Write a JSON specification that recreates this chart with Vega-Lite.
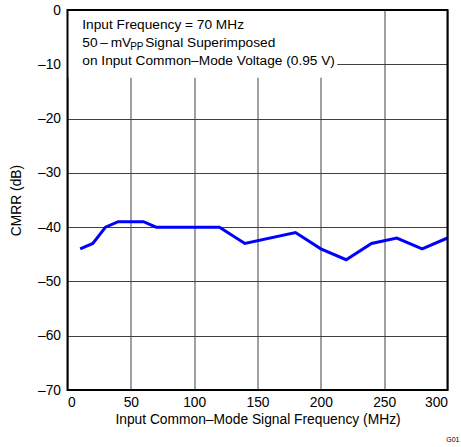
{
  "$schema": "https://vega.github.io/schema/vega-lite/v6.json",
  "width": 380,
  "height": 380,
  "autosize": "none",
  "padding": {"left": 67.5, "top": 10, "right": 13.5, "bottom": 57},
  "background": "white",
  "config": {
    "view": {"stroke": null},
    "font": "Liberation Sans",
    "axis": {
      "domain": false,
      "ticks": false,
      "labelFont": "Liberation Sans",
      "titleFont": "Liberation Sans",
      "labelFontSize": 13.8,
      "titleFontSize": 13.8,
      "labelColor": "black",
      "titleColor": "black",
      "titleFontWeight": "normal"
    }
  },
  "data": {
    "values": [
      {"freq": 10, "cmrr": -44},
      {"freq": 20, "cmrr": -43},
      {"freq": 30, "cmrr": -40},
      {"freq": 40, "cmrr": -39},
      {"freq": 60, "cmrr": -39},
      {"freq": 70, "cmrr": -40},
      {"freq": 120, "cmrr": -40},
      {"freq": 140, "cmrr": -43},
      {"freq": 180, "cmrr": -41},
      {"freq": 200, "cmrr": -44},
      {"freq": 220, "cmrr": -46},
      {"freq": 240, "cmrr": -43},
      {"freq": 260, "cmrr": -42},
      {"freq": 280, "cmrr": -44},
      {"freq": 300, "cmrr": -42}
    ]
  },
  "title": {
    "text": "G01",
    "orient": "bottom",
    "anchor": "end",
    "fontSize": 7,
    "font": "Liberation Sans",
    "fontWeight": "normal",
    "color": "black",
    "offset": 0,
    "dx": 11,
    "dy": 9
  },
  "layer": [
    {
      "mark": {"type": "line", "color": "#0000FF", "strokeWidth": 3, "clip": true},
      "encoding": {
        "x": {
          "field": "freq",
          "type": "quantitative",
          "scale": {"domain": [0, 300], "nice": false},
          "axis": {
            "values": [0, 50, 100, 150, 200, 250, 300],
            "title": "Input Common–Mode Signal Frequency (MHz)",
            "labelPadding": 5,
            "titlePadding": 4,
            "grid": true,
            "gridColor": "#808080",
            "gridWidth": 1.5
          }
        },
        "y": {
          "field": "cmrr",
          "type": "quantitative",
          "scale": {"domain": [-70, 0], "nice": false},
          "axis": {
            "values": [-70, -60, -50, -40, -30, -20, -10, 0],
            "labelExpr": "replace(datum.label, '−', '–')",
            "title": "CMRR (dB)",
            "labelPadding": 7,
            "titlePadding": 14,
            "grid": true,
            "gridColor": "#404040",
            "gridWidth": 1
          }
        }
      }
    },
    {
      "data": {"values": [{}]},
      "mark": {"type": "rect", "color": "white"},
      "encoding": {
        "x": {"datum": 0},
        "x2": {"datum": 213},
        "y": {"datum": 0},
        "y2": {"datum": -12.5}
      }
    },
    {
      "data": {"values": [{}]},
      "mark": {"type": "text", "align": "left", "baseline": "alphabetic", "fontSize": 13.7, "color": "black"},
      "encoding": {
        "x": {"datum": 11.7},
        "y": {"datum": -3.5},
        "text": {"value": "Input Frequency = 70 MHz"}
      }
    },
    {
      "data": {"values": [{}]},
      "mark": {"type": "text", "align": "left", "baseline": "alphabetic", "fontSize": 13.7, "color": "black"},
      "encoding": {
        "x": {"datum": 11.7},
        "y": {"datum": -6.85},
        "text": {"value": "50\u2009–\u2009mV"}
      }
    },
    {
      "data": {"values": [{}]},
      "mark": {"type": "text", "align": "left", "baseline": "alphabetic", "fontSize": 10, "color": "black", "dy": 2.5},
      "encoding": {
        "x": {"datum": 49.5},
        "y": {"datum": -6.85},
        "text": {"value": "PP"}
      }
    },
    {
      "data": {"values": [{}]},
      "mark": {"type": "text", "align": "left", "baseline": "alphabetic", "fontSize": 13.7, "color": "black"},
      "encoding": {
        "x": {"datum": 61.3},
        "y": {"datum": -6.85},
        "text": {"value": "Signal Superimposed"}
      }
    },
    {
      "data": {"values": [{}]},
      "mark": {"type": "text", "align": "left", "baseline": "alphabetic", "fontSize": 13.7, "color": "black"},
      "encoding": {
        "x": {"datum": 11.7},
        "y": {"datum": -10.2},
        "text": {"value": "on Input Common–Mode Voltage (0.95 V)"}
      }
    },
    {
      "data": {"values": [{}]},
      "mark": {"type": "rect", "filled": false, "stroke": "black", "strokeWidth": 2},
      "encoding": {
        "x": {"datum": 0},
        "x2": {"datum": 300},
        "y": {"datum": 0},
        "y2": {"datum": -70}
      }
    }
  ]
}
